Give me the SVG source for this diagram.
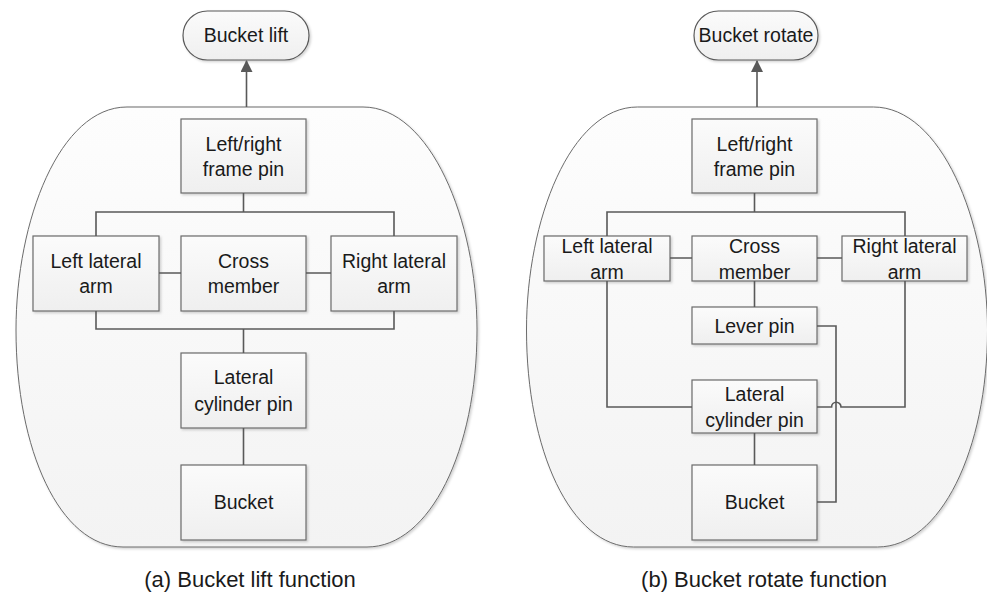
<svg xmlns="http://www.w3.org/2000/svg" width="987" height="592" viewBox="0 0 987 592">
  <defs>
    <linearGradient id="boxFill" x1="0" y1="0" x2="0" y2="1">
      <stop offset="0" stop-color="#fbfbfb"/>
      <stop offset="1" stop-color="#efefef"/>
    </linearGradient>
    <linearGradient id="panelFill" x1="0" y1="0" x2="0" y2="1">
      <stop offset="0" stop-color="#fdfdfd"/>
      <stop offset="1" stop-color="#f3f3f3"/>
    </linearGradient>
    <filter id="shadow" x="-10%" y="-10%" width="120%" height="120%">
      <feDropShadow dx="1.5" dy="1.5" stdDeviation="1" flood-color="#000" flood-opacity="0.18"/>
    </filter>
    <marker id="arrow" viewBox="0 0 12 12" refX="11" refY="6" markerWidth="12" markerHeight="12" markerUnits="userSpaceOnUse" orient="auto">
      <path d="M0,0 L12,6 L0,12 Z" fill="#595959"/>
    </marker>
    <!-- outline of each function region -->
    <path id="region" d="M111,0 H347 C414,0 461,113 461,223 C461,343 414,440 351,440 H107 C44,440 0,343 0,223 C0,113 44,0 111,0 Z"/>
  </defs>
  <style>
    .panel { fill: url(#panelFill); stroke: #6b6b6b; stroke-width: 1; filter: url(#shadow); }
    .box { fill: url(#boxFill); stroke: #6b6b6b; stroke-width: 1.2; filter: url(#shadow); }
    .cap { fill: url(#boxFill); stroke: #595959; stroke-width: 1.2; filter: url(#shadow); }
    .wire { fill: none; stroke: #595959; stroke-width: 1.6; }
    text { font-family: "Liberation Sans", Arial, sans-serif; font-size: 19.5px; fill: #1a1a1a; text-anchor: middle; dominant-baseline: central; }
    .caption { font-size: 22px; }
  </style>

  <!-- region outlines -->
  <use href="#region" x="16" y="107" class="panel"/>
  <use href="#region" x="526.5" y="107" class="panel"/>

  <!-- ===== (a) Bucket lift ===== -->
  <g id="a-lift">
    <rect class="cap" x="183" y="11" width="126" height="49" rx="24.5"/>
    <text x="246" y="35">Bucket lift</text>
  </g>
  <g id="a-frame-pin">
    <rect class="box" x="181" y="119" width="125" height="74"/>
    <text x="243.5" y="144">Left/right</text>
    <text x="243.5" y="169">frame pin</text>
  </g>
  <g id="a-left-arm">
    <rect class="box" x="33" y="236" width="126" height="75"/>
    <text x="96" y="261">Left lateral</text>
    <text x="96" y="286">arm</text>
  </g>
  <g id="a-cross">
    <rect class="box" x="181" y="236" width="125" height="75"/>
    <text x="243.5" y="261">Cross</text>
    <text x="243.5" y="286">member</text>
  </g>
  <g id="a-right-arm">
    <rect class="box" x="331" y="236" width="126" height="75"/>
    <text x="394" y="261">Right lateral</text>
    <text x="394" y="286">arm</text>
  </g>
  <g id="a-cyl-pin">
    <rect class="box" x="181" y="353" width="125" height="75"/>
    <text x="243.5" y="377">Lateral</text>
    <text x="243.5" y="404">cylinder pin</text>
  </g>
  <g id="a-bucket">
    <rect class="box" x="181" y="465" width="125" height="75"/>
    <text x="243.5" y="502">Bucket</text>
  </g>
  <text class="caption" x="250" y="579">(a) Bucket lift function</text>

  <!-- ===== (b) Bucket rotate ===== -->
  <g id="b-rotate">
    <rect class="cap" x="694" y="11" width="124" height="49" rx="24.5"/>
    <text x="756" y="35">Bucket rotate</text>
  </g>
  <g id="b-frame-pin">
    <rect class="box" x="692" y="119" width="125" height="74"/>
    <text x="754.5" y="144">Left/right</text>
    <text x="754.5" y="169">frame pin</text>
  </g>
  <g id="b-left-arm">
    <rect class="box" x="544" y="236" width="126" height="45"/>
    <text x="607" y="246">Left lateral</text>
    <text x="607" y="272">arm</text>
  </g>
  <g id="b-cross">
    <rect class="box" x="692" y="236" width="125" height="45"/>
    <text x="754.5" y="246">Cross</text>
    <text x="754.5" y="272">member</text>
  </g>
  <g id="b-right-arm">
    <rect class="box" x="842" y="236" width="125" height="45"/>
    <text x="904.5" y="246">Right lateral</text>
    <text x="904.5" y="272">arm</text>
  </g>
  <g id="b-lever-pin">
    <rect class="box" x="692" y="307" width="125" height="37"/>
    <text x="754.5" y="326">Lever pin</text>
  </g>
  <g id="b-cyl-pin">
    <rect class="box" x="692" y="380" width="125" height="53"/>
    <text x="754.5" y="394">Lateral</text>
    <text x="754.5" y="420">cylinder pin</text>
  </g>
  <g id="b-bucket">
    <rect class="box" x="692" y="465" width="125" height="75"/>
    <text x="754.5" y="502">Bucket</text>
  </g>
  <text class="caption" x="764" y="579">(b) Bucket rotate function</text>

  <!-- connectors -->
  <g id="connectors" class="wire">
    <!-- (a) -->
    <path d="M246.5,107 V61" marker-end="url(#arrow)"/>
    <path d="M243.5,193 V212 M96,236 V212 H394 V236"/>
    <path d="M159,273 H181 M306,273 H331"/>
    <path d="M96,311 V329 H394 V311 M243.5,329 V353"/>
    <path d="M243.5,428 V465"/>
    <!-- (b) -->
    <path d="M757,107 V61" marker-end="url(#arrow)"/>
    <path d="M754.5,193 V212 M607,236 V212 H905 V236"/>
    <path d="M670,258 H692 M817,258 H842"/>
    <path d="M754.5,281 V307"/>
    <path d="M607,281 V407 H692"/>
    <path d="M905,281 V407 H841 A4.7,4.7 0 0 0 831.6,407 H817"/>
    <path d="M817,326 H836 V502 H817"/>
    <path d="M754.5,433 V465"/>
  </g>
</svg>
